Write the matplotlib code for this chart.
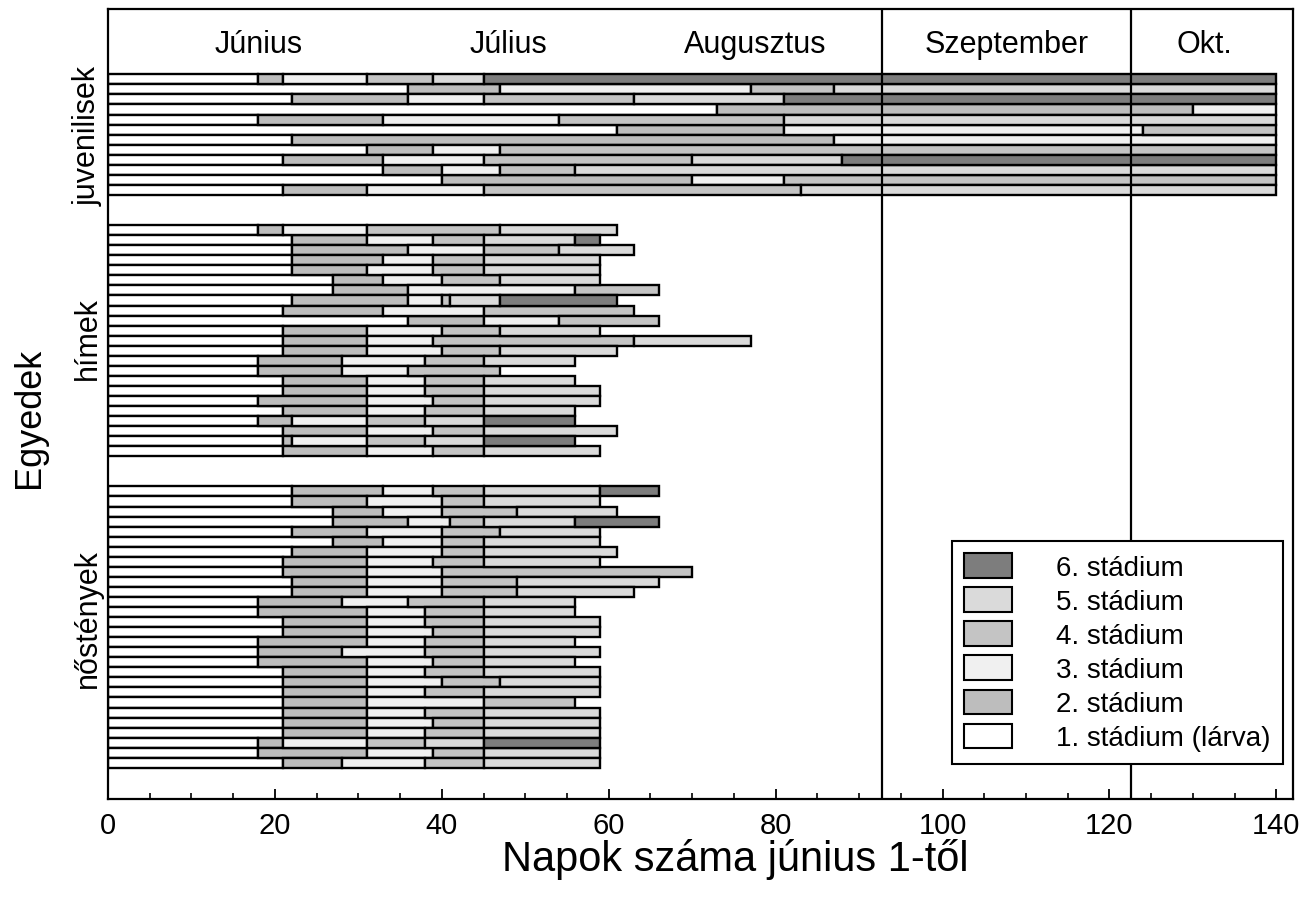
import numpy as np
import matplotlib.pyplot as plt
from matplotlib.patches import Patch

plt.rcParams['font.family'] = ['Liberation Sans', 'DejaVu Sans']

# stádiumhatárok (napok június 1-től), egyedenként
juvenilisek = [
    [18, 21, 31, 39, 45, 140],
    [36, 47, 77, 87, 140],
    [22, 36, 45, 63, 81, 140],
    [73, 130, 140],
    [18, 33, 54, 81, 140],
    [61, 81, 124, 140],
    [22, 87, 140],
    [31, 39, 47, 140],
    [21, 33, 45, 70, 88, 140],
    [33, 40, 47, 56, 140],
    [40, 70, 81, 140],
    [21, 31, 45, 83, 140],
]

himek = [
    [18, 21, 31, 47, 61],
    [22, 31, 39, 45, 56, 59],
    [22, 36, 45, 54, 63],
    [22, 33, 39, 45, 59],
    [22, 31, 39, 45, 59],
    [27, 33, 40, 47, 59],
    [27, 36, 56, 66],
    [22, 36, 40, 41, 47, 61],
    [21, 33, 45, 63],
    [36, 45, 54, 66],
    [21, 31, 40, 47, 59],
    [21, 31, 39, 63, 77],
    [21, 31, 40, 47, 61],
    [18, 28, 38, 45, 56],
    [18, 28, 36, 47],
    [21, 31, 38, 45, 56],
    [21, 31, 38, 45, 59],
    [18, 31, 39, 45, 59],
    [21, 31, 38, 45, 56],
    [18, 22, 31, 38, 45, 56],
    [21, 31, 39, 45, 61],
    [21, 22, 31, 38, 45, 56],
    [21, 31, 39, 45, 59],
]

nostenyek = [
    [22, 33, 39, 45, 59, 66],
    [22, 31, 40, 45, 59],
    [27, 33, 40, 49, 61],
    [27, 36, 41, 45, 56, 66],
    [22, 31, 40, 47, 59],
    [27, 33, 40, 45, 59],
    [22, 31, 40, 45, 61],
    [21, 31, 39, 45, 59],
    [21, 31, 40, 70],
    [22, 31, 40, 49, 66],
    [22, 31, 40, 49, 63],
    [18, 28, 36, 45, 56],
    [18, 31, 38, 45, 56],
    [21, 31, 38, 45, 59],
    [21, 31, 39, 45, 59],
    [18, 31, 38, 45, 56],
    [18, 28, 38, 45, 59],
    [18, 31, 39, 45, 56],
    [21, 31, 38, 45, 59],
    [21, 31, 40, 47, 59],
    [21, 31, 38, 45, 59],
    [21, 31, 45, 56],
    [21, 31, 38, 45, 59],
    [21, 31, 39, 45, 59],
    [21, 31, 38, 45, 59],
    [18, 21, 31, 38, 45, 59],
    [18, 31, 39, 45, 59],
    [21, 28, 38, 45, 59],
]

csoport_nevek = ['juvenilisek', 'hímek', 'nőstények']
stadium_nevek = ['1. stádium (lárva)', '2. stádium', '3. stádium',
                 '4. stádium', '5. stádium', '6. stádium']
stadium_szinek = ['#ffffff', '#bdbdbd', '#f0f0f0', '#c4c4c4', '#dadada', '#7d7d7d']

honapok = ['Június', 'Július', 'Augusztus', 'Szeptember', 'Okt.']
honap_x = [18, 48, 77.6, 107.7, 131.4]
honap_hatarok = [92.7, 122.6]

fig = plt.figure(figsize=(13.06, 9.04), dpi=100)
ax = fig.add_axes([108 / 1306, 1 - 800 / 904, 1185 / 1306, 790 / 904])

# sorok elhelyezése: csoportok között 3 sornyi hely
ys, sorok, kozepek = [], [], []
teteje = 6.5
for csoport in [juvenilisek, himek, nostenyek]:
    for i, sor in enumerate(csoport):
        ys.append(teteje + i + 0.5)
        sorok.append(sor)
    kozepek.append(teteje + len(csoport) / 2)
    teteje += len(csoport) + 3

for k in range(6):
    y_k, bal, szel = [], [], []
    for y, sor in zip(ys, sorok):
        if len(sor) > k:
            eleje = sor[k - 1] if k > 0 else 0
            y_k.append(y)
            bal.append(eleje)
            szel.append(sor[k] - eleje)
    ax.barh(y_k, szel, left=bal, height=1, color=stadium_szinek[k],
            edgecolor='black', linewidth=1.7, zorder=2)

for h in honap_hatarok:
    ax.axvline(h, color='black', linewidth=1.6, zorder=4)

for nev, x in zip(honapok, honap_x):
    ax.text(x, 3.5, nev, ha='center', va='center', fontsize=22)

# csoportnevek a bal tengely mellett
for nev, yc, dy in zip(csoport_nevek, kozepek, [0, -0.3, -1.0]):
    ax.text(-0.017, yc + dy, nev, transform=ax.get_yaxis_transform(),
            rotation=90, ha='center', va='center', fontsize=22)

ax.set_xlim(0, 142)
ax.set_ylim(78.6, 0)
ax.set_yticks([])
ax.set_xticks(np.arange(0, 141, 20))
ax.set_xticks(np.arange(0, 141, 5), minor=True)
ax.tick_params(axis='x', which='major', direction='in', length=7, width=1.3,
               labelsize=21, pad=9)
ax.tick_params(axis='x', which='minor', direction='in', length=4, width=1.2)
for s in ax.spines.values():
    s.set_linewidth(1.6)

fig.text(30 / 1306, 1 - 418 / 904, 'Egyedek', rotation=90,
         ha='center', va='center', fontsize=26)
fig.text(735 / 1306, 1 - 860 / 904, 'Napok száma június 1-től',
         ha='center', va='center', fontsize=30)

kezelok = [Patch(facecolor=stadium_szinek[k], edgecolor='black', linewidth=1.5,
                 label=stadium_nevek[k]) for k in range(5, -1, -1)]
leg = ax.legend(handles=kezelok, loc='lower right', fontsize=20,
                bbox_to_anchor=(1283 / 1306, 1 - 765 / 904),
                bbox_transform=fig.transFigure, borderaxespad=0,
                frameon=True, fancybox=False, framealpha=1,
                handlelength=1.7, handleheight=1.0, handletextpad=1.6,
                labelspacing=0.22, borderpad=0.45)
leg.get_frame().set_edgecolor('black')
leg.get_frame().set_linewidth(1.5)
leg.set_zorder(5)

fig.savefig('out.png', dpi=100)
